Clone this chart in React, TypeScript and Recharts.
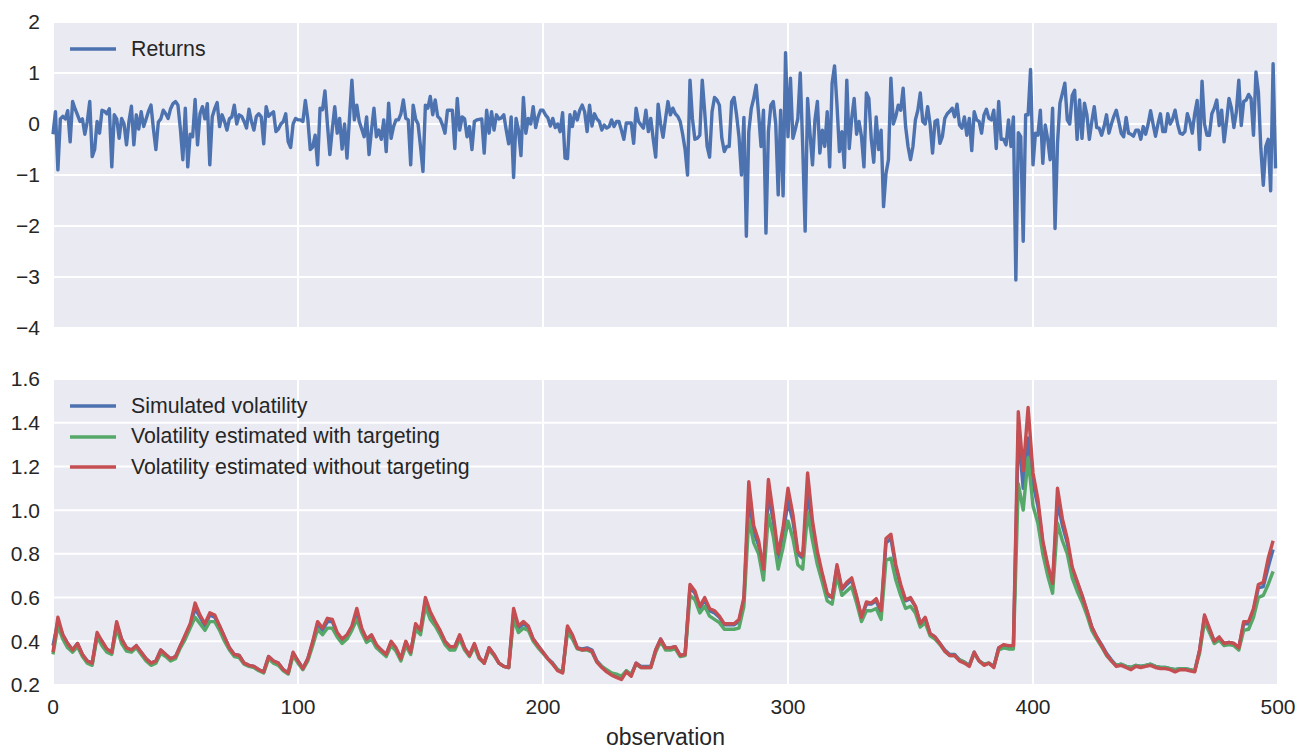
import { LineChart, Line, XAxis, YAxis, CartesianGrid, Legend } from 'recharts';

// simulated returns, one value per observation (0..499)
const returns = [
  -0.2, 0.24, -0.9, 0.1, 0.15, 0.1, 0.26, -0.35, 0.44, 0.3,
  0.18, 0.05, 0.1, -0.2, 0.05, 0.44, -0.64, -0.5, 0.05, -0.18,
  0.27, 0.25, 0.2, 0.3, -0.84, 0.18, 0.1, -0.28, 0.11, 0.0,
  -0.41, 0.05, 0.35, -0.41, 0.18, -0.1, 0.24, -0.05, 0.1, 0.25,
  0.37, -0.1, -0.5, 0.04, 0.1, 0.27, 0.2, 0.11, 0.3, 0.4,
  0.44, 0.37, -0.1, -0.7, 0.31, -0.84, -0.2, -0.25, 0.48, -0.41,
  0.2, 0.34, 0.1, 0.4, -0.8, 0.14, 0.3, 0.42, -0.05, 0.18,
  0.05, -0.12, 0.1, 0.14, 0.37, 0.0, 0.18, 0.15, 0.05, -0.08,
  0.29, 0.05, -0.12, 0.15, 0.2,
  0.14, -0.39, 0.34, 0.15, 0.2, 0.24, -0.15, -0.1, 0.0, 0.05,
  0.2, -0.35, -0.46, 0.0, 0.11, 0.08, 0.08, 0.05, 0.46, 0.1,
  -0.5, -0.45, -0.22, -0.8, 0.31, 0.28, 0.65, 0.0, -0.6, -0.1,
  0.34, -0.18, 0.11, -0.49, 0.0, -0.67, 0.11, 0.86, 0.08, 0.37,
  0.05, -0.1, -0.25, 0.14, -0.6, -0.12, 0.31, -0.25, -0.12, -0.3,
  0.08, -0.54, 0.41, -0.28, -0.05, 0.08, 0.08, 0.2, 0.47, 0.11,
  0.08, -0.8, 0.37, 0.1, 0.0, -0.44, -0.93, 0.37, 0.31, 0.54,
  0.18, 0.47, 0.15, 0.1, -0.02, -0.18, 0.27, 0.27, 0.27, -0.48,
  0.5, -0.12, 0.14, 0.1,
  -0.25, -0.05, -0.5, 0.05, 0.08, 0.09, 0.1, -0.57, 0.27, -0.18,
  0.24, -0.12, 0.18, 0.1, 0.12, 0.18, -0.12, -0.39, 0.14, -1.05,
  0.11, -0.12, -0.62, 0.52, -0.18, 0.11, 0.0, 0.34, -0.07, 0.14,
  0.27, 0.27, 0.18, 0.12, -0.04, 0.11, -0.07, 0.0, -0.15, 0.22,
  -0.67, -0.68, 0.18, -0.05, 0.24, 0.08, 0.27, 0.37, 0.24, -0.15,
  0.37, -0.04, 0.2, 0.1, 0.05, -0.12, -0.02, -0.08, -0.05, 0.08,
  -0.05, 0.05, 0.05, -0.12, -0.3, 0.02, 0.02, 0.02, -0.38, 0.31,
  0.05, -0.02, -0.08, 0.27, -0.15, 0.11, -0.3, -0.65, 0.39, 0.0,
  -0.26, 0.1,
  0.44, 0.18, 0.31, 0.2, 0.15, 0.05, -0.2, -0.5, -1.0, 0.86,
  0.1, -0.3, -0.28, -0.22, 0.86, 0.24, -0.44, -0.65, 0.24, 0.52,
  0.47, 0.37, -0.28, -0.54, -0.44, -0.44, 0.44, 0.52, 0.18, -0.25,
  -1.0, 0.13, -2.2, -0.15, 0.3, 0.5, 0.76, 0.2, -0.44, 0.27,
  -2.14, -0.15, 0.37, 0.44, 0.0, -1.39, 0.27, -1.41, 1.4, -0.25,
  0.9, -0.28, -0.1, 0.1, 1.0, -0.44, -2.1, 0.5, -0.2, -0.8,
  0.08, 0.44, -0.57, -0.12, -0.44, 0.24, -0.84, 0.8, 1.14, 0.37,
  -0.54, -0.15, -0.85, 0.86, -0.48, 0.11, 0.5, -0.2, 0.05, -0.25,
  -0.84, 0.61, 0.5, -0.3, -0.75,
  0.14, -0.5, -0.12, -1.62, -0.97, -0.7, 0.9, 0.0, 0.15, 0.37,
  0.27, 0.7, -0.05, -0.44, -0.7, -0.44, 0.08, 0.27, 0.61, 0.05,
  0.0, 0.34, 0.0, -0.57, 0.05, 0.08, -0.38, -0.25, 0.11, 0.2,
  0.25, 0.31, 0.14, 0.39, -0.02, -0.08, 0.14, -0.22, 0.11, -0.52,
  0.24, 0.08, 0.05, -0.18, 0.18, 0.29, 0.11, 0.08, 0.27, -0.48,
  0.44, -0.3, -0.3, -0.41, 0.08, -0.44, 0.14, -3.06, -0.17, -0.25,
  -2.3, 0.18, 0.18, 1.07, -0.8, -0.18, -0.22, 0.27, -0.77, -0.02,
  -0.3, -0.7, 0.31, -2.05, -0.38, 0.41, 0.6, 0.8, 0.08,
  0.0, 0.56, 0.66, -0.3, 0.47, -0.28, 0.41, 0.18, -0.3, 0.05,
  0.34, -0.07, -0.08, -0.22, -0.05, 0.18, -0.18, 0.0, 0.15, 0.27,
  0.05, -0.18, -0.25, 0.13, -0.18, -0.2, -0.24, -0.12, -0.12, -0.3,
  -0.05, -0.2, 0.0, 0.26, 0.0, -0.24, 0.0, 0.2, -0.15, -0.15,
  0.2, 0.0, 0.1, 0.27, 0.0, -0.18, -0.2, -0.15, 0.2, 0.05,
  -0.18, 0.2, 0.46, -0.5, 0.84, 0.0, -0.22, -0.22, 0.2, 0.31,
  0.47, -0.03, 0.27, -0.35, 0.05, 0.5, 0.31, -0.07, 0.24, 0.86,
  -0.03, 0.44, 0.47, 0.58, 0.5, -0.22, 1.02, 0.63, -0.48, -1.2,
  -0.44, -0.3, -1.31, 1.18, -0.87,
];

// volatility series, read every 2nd observation (0, 2, ..., 498)
const volStep = 2;

const simulatedVol = [
  0.38, 0.49, 0.43, 0.39, 0.36, 0.39, 0.34, 0.31, 0.30, 0.43,
  0.40, 0.36, 0.35, 0.48, 0.41, 0.37, 0.36, 0.38, 0.35, 0.32,
  0.30, 0.31, 0.36, 0.34, 0.32, 0.33, 0.38, 0.42, 0.47, 0.55,
  0.51, 0.47, 0.52, 0.51, 0.47, 0.42, 0.37, 0.34, 0.335, 0.30,
  0.29, 0.285, 0.27, 0.26, 0.33, 0.31, 0.30, 0.27, 0.255, 0.345,
  0.31, 0.275, 0.32, 0.39, 0.48, 0.45, 0.49, 0.49, 0.435, 0.405,
  0.425, 0.465, 0.53, 0.455, 0.41, 0.425, 0.38, 0.36, 0.34, 0.395,
  0.365, 0.32, 0.395, 0.35, 0.47, 0.445, 0.585, 0.525, 0.485, 0.445,
  0.40, 0.375, 0.375, 0.425, 0.37, 0.335, 0.385, 0.325, 0.30, 0.37,
  0.34, 0.30, 0.285, 0.28, 0.53, 0.46, 0.48, 0.465, 0.41, 0.38,
  0.35, 0.32, 0.30, 0.27, 0.26, 0.46, 0.425, 0.37, 0.365, 0.37,
  0.36, 0.31, 0.285, 0.265, 0.25, 0.24, 0.23, 0.265, 0.245, 0.30,
  0.285, 0.285, 0.285, 0.36, 0.41, 0.37, 0.37, 0.375, 0.335, 0.34,
  0.645, 0.62, 0.55, 0.59, 0.54, 0.53, 0.51, 0.475, 0.475, 0.475,
  0.49, 0.59, 1.05, 0.90, 0.84, 0.72, 1.07, 0.95, 0.78, 0.89,
  1.04, 0.95, 0.80, 0.78, 1.08, 0.92, 0.79, 0.70, 0.61, 0.60,
  0.74, 0.635, 0.66, 0.68, 0.60, 0.51, 0.57, 0.57, 0.585, 0.53,
  0.85, 0.87, 0.74, 0.65, 0.585, 0.595, 0.56, 0.48, 0.505, 0.435,
  0.42, 0.39, 0.36, 0.34, 0.34, 0.315, 0.305, 0.29, 0.35, 0.31,
  0.295, 0.30, 0.285, 0.37, 0.38, 0.375, 0.375, 1.36, 1.10, 1.33,
  1.12, 1.02, 0.85, 0.74, 0.66, 1.04, 0.93, 0.85, 0.73, 0.67,
  0.61, 0.54, 0.465, 0.42, 0.385, 0.345, 0.315, 0.29, 0.295, 0.285,
  0.28, 0.29, 0.285, 0.29, 0.295, 0.285, 0.28, 0.28, 0.275, 0.27,
  0.275, 0.275, 0.27, 0.265, 0.36, 0.51, 0.455, 0.40, 0.415, 0.39,
  0.395, 0.39, 0.37, 0.48, 0.48, 0.54, 0.645, 0.65, 0.74, 0.82,
];

const targetedVol = [
  0.34, 0.47, 0.41, 0.37, 0.35, 0.375, 0.33, 0.30, 0.29, 0.42,
  0.38, 0.35, 0.34, 0.46, 0.39, 0.355, 0.35, 0.37, 0.34, 0.31,
  0.29, 0.30, 0.345, 0.33, 0.31, 0.32, 0.37, 0.41, 0.46, 0.51,
  0.48, 0.45, 0.49, 0.49, 0.45, 0.40, 0.36, 0.33, 0.325, 0.295,
  0.285, 0.28, 0.265, 0.255, 0.32, 0.30, 0.29, 0.265, 0.25, 0.335,
  0.30, 0.27, 0.31, 0.38, 0.455, 0.43, 0.46, 0.46, 0.42, 0.39,
  0.41, 0.45, 0.50, 0.44, 0.395, 0.41, 0.37, 0.35, 0.33, 0.38,
  0.355, 0.31, 0.38, 0.34, 0.455, 0.43, 0.56, 0.50, 0.47, 0.43,
  0.385, 0.36, 0.36, 0.41, 0.36, 0.33, 0.375, 0.32, 0.30, 0.36,
  0.335, 0.30, 0.285, 0.28, 0.50, 0.44, 0.46, 0.45, 0.40, 0.37,
  0.345, 0.32, 0.295, 0.27, 0.26, 0.44, 0.41, 0.365, 0.36, 0.36,
  0.35, 0.305, 0.285, 0.27, 0.255, 0.25, 0.24, 0.265, 0.25, 0.295,
  0.28, 0.28, 0.28, 0.35, 0.40, 0.36, 0.36, 0.365, 0.33, 0.335,
  0.61, 0.59, 0.53, 0.56, 0.515, 0.50, 0.485, 0.455, 0.455, 0.455,
  0.46, 0.56, 0.96, 0.85, 0.80, 0.68, 0.98, 0.88, 0.73, 0.83,
  0.95, 0.87, 0.75, 0.73, 0.99, 0.86, 0.75, 0.67, 0.585, 0.57,
  0.70, 0.61, 0.63, 0.65, 0.575, 0.49, 0.54, 0.54, 0.55, 0.50,
  0.77, 0.78, 0.68, 0.61, 0.55, 0.56, 0.53, 0.465, 0.485, 0.425,
  0.41, 0.385, 0.355, 0.335, 0.335, 0.315, 0.305, 0.29, 0.345, 0.31,
  0.295, 0.30, 0.285, 0.36, 0.37, 0.365, 0.365, 1.12, 1.00, 1.24,
  1.02, 0.94, 0.80, 0.70, 0.62, 0.94, 0.86, 0.80, 0.69, 0.63,
  0.58, 0.52, 0.45, 0.41, 0.375, 0.335, 0.31, 0.29, 0.295, 0.285,
  0.28, 0.29, 0.285, 0.29, 0.295, 0.285, 0.28, 0.28, 0.275, 0.27,
  0.275, 0.275, 0.27, 0.265, 0.345, 0.49, 0.44, 0.39, 0.405, 0.38,
  0.385, 0.38, 0.36, 0.45, 0.455, 0.51, 0.60, 0.61, 0.66, 0.72,
];

const untargetedVol = [
  0.35, 0.51, 0.43, 0.39, 0.36, 0.39, 0.34, 0.31, 0.30, 0.44,
  0.40, 0.365, 0.35, 0.49, 0.41, 0.37, 0.36, 0.38, 0.35, 0.32,
  0.30, 0.31, 0.36, 0.34, 0.32, 0.33, 0.38, 0.43, 0.48, 0.575,
  0.52, 0.48, 0.53, 0.52, 0.47, 0.42, 0.37, 0.34, 0.335, 0.30,
  0.29, 0.285, 0.27, 0.26, 0.33, 0.31, 0.30, 0.27, 0.255, 0.35,
  0.31, 0.275, 0.32, 0.40, 0.49, 0.46, 0.505, 0.50, 0.44, 0.41,
  0.43, 0.47, 0.55, 0.46, 0.41, 0.43, 0.385, 0.36, 0.34, 0.40,
  0.37, 0.32, 0.40, 0.35, 0.48, 0.45, 0.60, 0.535, 0.49, 0.45,
  0.40, 0.375, 0.375, 0.43, 0.37, 0.335, 0.39, 0.325, 0.30, 0.37,
  0.34, 0.30, 0.285, 0.28, 0.55, 0.47, 0.49, 0.47, 0.41, 0.38,
  0.35, 0.32, 0.295, 0.265, 0.255, 0.47, 0.43, 0.37, 0.36, 0.365,
  0.355, 0.305, 0.28, 0.26, 0.245, 0.235, 0.225, 0.26, 0.24, 0.30,
  0.28, 0.28, 0.28, 0.36, 0.41, 0.37, 0.37, 0.375, 0.335, 0.34,
  0.66, 0.63, 0.56, 0.60, 0.55, 0.54, 0.515, 0.48, 0.48, 0.48,
  0.50, 0.60, 1.13, 0.93, 0.86, 0.73, 1.14, 0.98, 0.80, 0.92,
  1.10, 0.98, 0.81, 0.79, 1.17, 0.95, 0.81, 0.71, 0.62, 0.60,
  0.75, 0.64, 0.67, 0.69, 0.605, 0.51, 0.58, 0.575, 0.595, 0.54,
  0.87, 0.89, 0.75, 0.66, 0.59, 0.60, 0.56, 0.48, 0.51, 0.435,
  0.42, 0.39, 0.355, 0.335, 0.335, 0.31, 0.30, 0.285, 0.35, 0.31,
  0.29, 0.30, 0.28, 0.37, 0.385, 0.38, 0.38, 1.45, 1.18, 1.47,
  1.17, 1.05, 0.86, 0.75, 0.665, 1.10, 0.96, 0.87, 0.74, 0.675,
  0.61, 0.54, 0.465, 0.42, 0.38, 0.34, 0.31, 0.285, 0.29, 0.28,
  0.27, 0.285, 0.28, 0.285, 0.29, 0.28, 0.275, 0.275, 0.27, 0.26,
  0.27, 0.27, 0.265, 0.26, 0.36, 0.52, 0.46, 0.40, 0.42, 0.39,
  0.395, 0.39, 0.37, 0.49, 0.49, 0.55, 0.66, 0.67, 0.78, 0.86,
];

const xTicks = [0, 100, 200, 300, 400, 500];
const returnTicks = [-4, -3, -2, -1, 0, 1, 2];
const volTicks = [0.2, 0.4, 0.6, 0.8, 1.0, 1.2, 1.4, 1.6];

const BLUE = '#4C72B0';
const GREEN = '#55A868';
const RED = '#C44E52';
const TEXT = '#262626';
const FONT = '"Liberation Sans", Arial, sans-serif';
const LW = 3.4;

const returnsData = returns.map((r, i) => ({ obs: i, returns: r }));
const volData = simulatedVol.map((s, i) => ({
  obs: i * volStep,
  simulated: s,
  withTarget: targetedVol[i],
  withoutTarget: untargetedVol[i],
}));

const tickStyle = { fill: TEXT, fontSize: 21, fontFamily: FONT };
const minus = (v: number) => (v < 0 ? `\u2212${Math.abs(v)}` : `${v}`);

function LegendBox({ payload }: any) {
  return (
    <div>
      {(payload || []).map((e: any) => (
        <div key={e.value} style={{ display: 'flex', alignItems: 'center', height: 30.5 }}>
          <svg width={46} height={6} style={{ display: 'block' }}>
            <line x1={0} x2={46} y1={3} y2={3} stroke={e.color} strokeWidth={LW} />
          </svg>
          <span style={{ marginLeft: 15, fontSize: 21.3, color: TEXT, fontFamily: FONT, whiteSpace: 'nowrap' }}>
            {e.value}
          </span>
        </div>
      ))}
    </div>
  );
}

export default function App() {
  return (
    <div style={{ position: 'absolute', left: 0, top: 0, width: 1299, height: 751, background: '#fff', fontFamily: FONT }}>
      <div style={{ position: 'absolute', left: 0, top: 0 }}>
        <LineChart width={1299} height={345} data={returnsData} margin={{ top: 22, right: 21, bottom: 2, left: 0 }}>
          <CartesianGrid stroke="#fff" strokeWidth={2} fill="#EAEAF2" fillOpacity={1} />
          <XAxis
            dataKey="obs" type="number" domain={[0, 500]} ticks={xTicks} interval={0}
            tick={() => <g />} axisLine={false} tickLine={false} height={15}
          />
          <YAxis
            type="number" domain={[-4, 2]} ticks={returnTicks} width={53} interval={0}
            tick={tickStyle} tickFormatter={minus}
            axisLine={false} tickLine={false} tickSize={6} tickMargin={7}
          />
          <Legend
            layout="vertical" align="center" verticalAlign="middle"
            wrapperStyle={{ left: 70, top: 34, width: 'auto' }}
            content={<LegendBox />}
          />
          <Line
            type="linear" dataKey="returns" name="Returns" stroke={BLUE}
            strokeWidth={LW} strokeLinejoin="round" dot={false} isAnimationActive={false}
          />
        </LineChart>
      </div>
      <div style={{ position: 'absolute', left: 0, top: 340 }}>
        <LineChart width={1299} height={411} data={volData} margin={{ top: 39, right: 21, bottom: 0, left: 0 }}>
          <CartesianGrid stroke="#fff" strokeWidth={2} fill="#EAEAF2" fillOpacity={1} />
          <XAxis
            dataKey="obs" type="number" domain={[0, 500]} ticks={xTicks} interval={0}
            tick={tickStyle} axisLine={false} tickLine={false} tickSize={6} tickMargin={8} height={66}
            label={{ value: 'observation', position: 'insideBottom', offset: 6, fill: TEXT, fontSize: 23, fontFamily: FONT }}
          />
          <YAxis
            type="number" domain={[0.2, 1.6]} ticks={volTicks} width={53} interval={0}
            tick={tickStyle} tickFormatter={(v: number) => v.toFixed(1)}
            axisLine={false} tickLine={false} tickSize={6} tickMargin={7}
          />
          <Legend
            layout="vertical" align="center" verticalAlign="middle"
            wrapperStyle={{ left: 70, top: 51, width: 'auto' }}
            content={<LegendBox />}
          />
          <Line
            type="linear" dataKey="simulated" name="Simulated volatility" stroke={BLUE}
            strokeWidth={LW} strokeLinejoin="round" dot={false} isAnimationActive={false}
          />
          <Line
            type="linear" dataKey="withTarget" name="Volatility estimated with targeting" stroke={GREEN}
            strokeWidth={LW} strokeLinejoin="round" dot={false} isAnimationActive={false}
          />
          <Line
            type="linear" dataKey="withoutTarget" name="Volatility estimated without targeting" stroke={RED}
            strokeWidth={LW} strokeLinejoin="round" dot={false} isAnimationActive={false}
          />
        </LineChart>
      </div>
    </div>
  );
}
